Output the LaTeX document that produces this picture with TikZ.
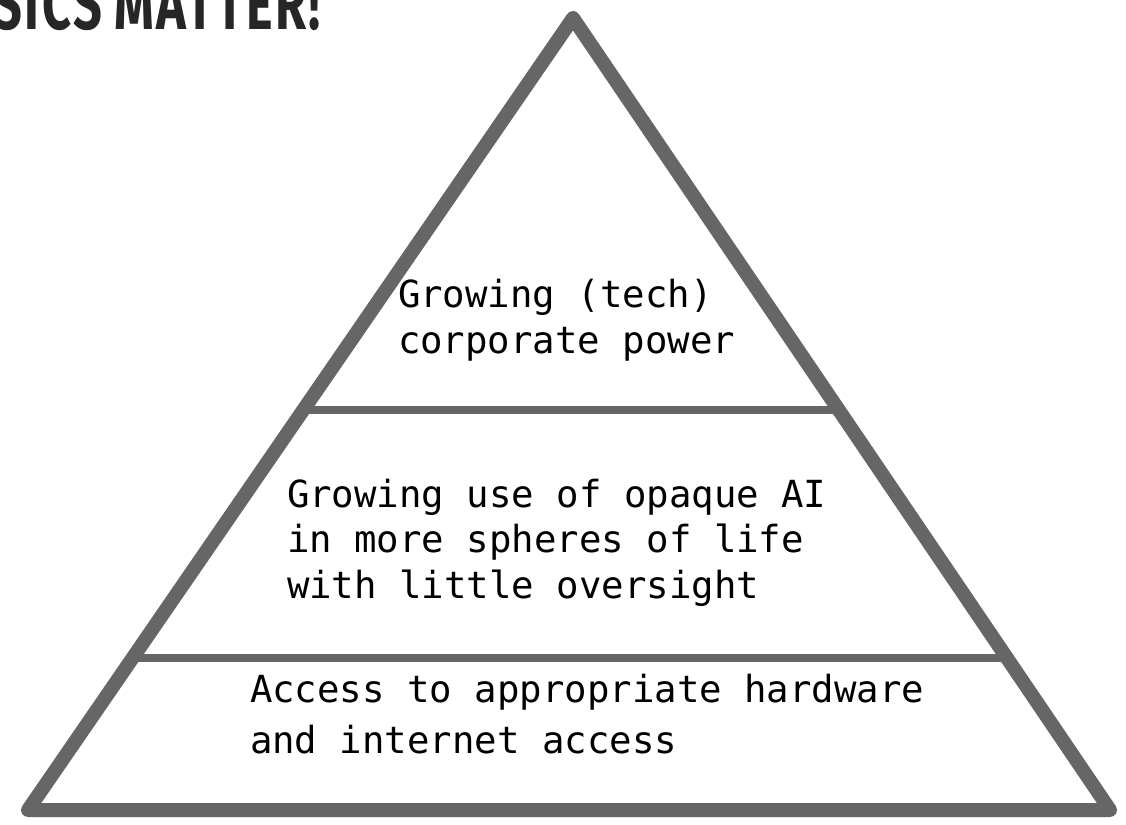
\documentclass[tikz,border=0pt]{standalone}
\usepackage{fontspec}
\setmonofont{DejaVu Sans Mono}
\newfontfamily\titlefont{Fira Sans}[LetterSpace=5]
\usetikzlibrary{positioning,calc}

\begin{document}
\begin{tikzpicture}[
  x=0.75pt,
  y=-0.75pt,
  line join=round,
  line cap=round,
  every node/.style={inner sep=0, outer sep=0},
  layer/.style={draw=black!60, line width=8*0.75pt},
  frame/.style={draw=black!60, line width=14*0.75pt},
  tiertext/.style={font=\fontsize{28}{34}\selectfont\ttfamily, align=left, anchor=base west}
  ]

  \useasboundingbox (0,0) rectangle (1126,824);
  \clip (0,0) rectangle (1126,824);

  % corners of the pyramid
  \coordinate (top) at (573,18);
  \coordinate (bl) at (28,810);
  \coordinate (br) at (1110,810);

  % tier boundaries on the sides
  \coordinate (uL) at ($(bl)!{(810-410)/792}!(top)$);
  \coordinate (uR) at ($(br)!{(810-410)/792}!(top)$);
  \coordinate (lL) at ($(bl)!{(810-658)/792}!(top)$);
  \coordinate (lR) at ($(br)!{(810-658)/792}!(top)$);

  \path [layer] (uL) -- (uR);
  \path [layer] (lL) -- (lR);
  \path [frame] (top) -- (br) -- (bl) -- cycle;

  % base anchor sits on the last line
  \node [tiertext] (power) at (398,353) {Growing (tech)\\corporate power};
  \node [tiertext] (opaque) at (287,598) {Growing use of opaque AI\\in more spheres of life\\with little oversight};
  \node [tiertext, font=\fontsize{28}{38}\selectfont\ttfamily] (access) at (250,753) {Access to appropriate hardware\\and internet access};

  \node [anchor=base west, xscale=0.7, font=\titlefont\bfseries\fontsize{54}{60}\selectfont, text=black!85] (title) at (-72,30) {BASICS\hspace{0.25em}MATTER!};

\end{tikzpicture}
\end{document}
